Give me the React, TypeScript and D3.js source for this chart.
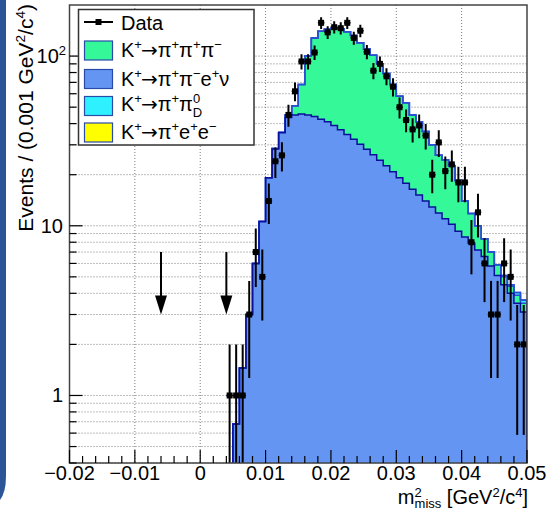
import React from 'react';
import * as d3 from 'd3';

// ---- data (bins of 0.001 GeV^2/c^4 starting at 0.004) ----
const binLow = 0.004;
const binWidth = 0.001;
const dataCounts = [1, 1, 1, 3, 7, 5, 14, 24, 26, 45, 62, 93, 93, 105, 157, 138, 148, 146, 157, 128, 141, 106, 82, 90, 76, 66, 50, 42, 37, 39, 34, 20, 31, 21, 23, 18, 18, 8, 12, 6, 3, 3, 6, 5, 2, 2];
const blueVals = [0, 0.68, 1.45, 3.0, 6.0, 10.6, 19.2, 28.3, 35.4, 43.5, 45, 45.5, 45, 44, 42.5, 41, 39, 36.8, 34.5, 32.3, 30.2, 28.2, 26.2, 24.3, 22.6, 20.8, 19.2, 17.8, 16.4, 15.2, 14.0, 12.9, 11.9, 11.0, 10.2, 9.3, 8.6, 7.9, 7.2, 6.6, 5.8, 5.1, 4.5, 4.0, 3.5, 3.1];
const greenVals = [0, 0, 0, 0, 0, 0, 0, 0.2, 0.1, 1.5, 6, 22.5, 55, 84, 97.5, 103, 107, 108.2, 104.5, 99.7, 89.8, 81.8, 74.8, 65.7, 56.4, 47.2, 38.8, 35.2, 28.6, 25.8, 22, 17.1, 14.1, 13.5, 12.3, 9.2, 5.4, 3.9, 2.8, 1.8, 1.2, 0.8, 0.5, 0.4, 0.4, 0.4];
const cyanVals = [0, 0, 0, 0, 0, 0, 0, 0, 0, 0, 0, 0, 0, 0, 0, 0, 0, 0, 0, 0, 0, 0, 0, 0, 0, 0, 0, 0, 0, 0, 0, 0, 0, 0, 0, 0, 0, 0, 0, 0, 0, 0, 0.1, 0.1, 0.15, 0.15];
const yellowVals = [0, 0, 0, 0, 0, 0, 0, 0, 0, 0, 0, 0, 0, 0, 0, 0, 0, 0, 0, 0, 0, 0, 0, 0, 0, 0, 0, 0, 0, 0, 0, 0, 0, 0, 0, 0, 0, 0, 0, 0, 0, 0, 0, 0, 0, 0];

const xTickValues = [-0.02, -0.01, 0, 0.01, 0.02, 0.03, 0.04, 0.05];
const xTickLabels = ['\u22120.02', '\u22120.01', '0', '0.01', '0.02', '0.03', '0.04', '0.05'];
const yMajorTicks = [1, 10, 100];
const arrowXs = [-0.006, 0.004];
const arrowFrom = 7;
const arrowTo = 3;

const FONT = "'Liberation Sans', Arial, Helvetica, sans-serif";

type Seg = { t: string; k?: 'sup' | 'sub'; dx?: number; f?: string };

function Rich({ segs, x, y, size, anchor, transform, subOff, supOff }: { segs: Seg[]; x: number; y: number; size: number; anchor?: string; transform?: string; subOff?: number; supOff?: number }) {
  let cur = 0;
  const small = size * 0.65;
  return (
    <text x={x} y={y} fontSize={size} textAnchor={anchor || 'start'} fontFamily={FONT} fill="#000" transform={transform}>
      {segs.map((sg, i) => {
        const target = sg.k === 'sup' ? -size * (supOff ?? 0.4) : sg.k === 'sub' ? size * (subOff ?? 0.28) : 0;
        const dy = target - cur;
        cur = target;
        return (
          <tspan key={i} dy={dy} dx={sg.dx || 0} fontSize={sg.k ? small : size} fontFamily={sg.f || undefined}>
            {sg.t}
          </tspan>
        );
      })}
    </text>
  );
}

const ARROW: Seg[] = [{ t: '\u2192', dx: -1, f: "'DejaVu Sans', sans-serif" }, { t: '\u03c0', dx: 0 }];

export default function App() {
  const L = 69.5, R = 527, T = 5, B = 463;
  const x = d3.scaleLinear().domain([-0.02, 0.05]).range([L, R]);
  const y = d3.scaleLog().domain([0.4, 200]).range([B, T]);
  const n = dataCounts.length;
  const edges = d3.range(n + 1).map((i) => binLow + i * binWidth);
  const below = B + 10;
  const yc = (v: number) => (v <= 0 ? below : Math.min(below, y(v)));

  const layers = [blueVals, greenVals, cyanVals, yellowVals];
  const cum: number[][] = [];
  let run = new Array(n).fill(0);
  layers.forEach((l) => {
    run = run.map((r, i) => r + l[i]);
    cum.push(run.slice());
  });
  const histPath = (vals: number[]) => {
    let p = `M${x(edges[0])},${below}`;
    vals.forEach((v, i) => {
      p += `L${x(edges[i])},${yc(v)}L${x(edges[i + 1])},${yc(v)}`;
    });
    p += `L${x(edges[n])},${below}`;
    return p;
  };

  const fills = ['#6495f2', '#35f898', '#2ef0ff', '#ffff00'];
  const strokes = ['#0b0f9a', '#2a4fd0', '#2a4fd0', '#2a4fd0'];

  const yGrid: number[] = [];
  [0.1, 1, 10, 100].forEach((d) => {
    for (let m = 1; m <= 9; m++) {
      const v = m * d;
      if (v >= 0.4 && v < 200) yGrid.push(v);
    }
  });
  const xMinor = d3.range(-0.02, 0.0501, 0.002).map((v) => Math.round(v * 1000) / 1000);

  const legendRows = [
    { c: fills[1], segs: [{ t: 'K' }, { t: '+', k: 'sup' }, ...ARROW, { t: '+', k: 'sup' }, { t: '\u03c0' }, { t: '+', k: 'sup' }, { t: '\u03c0' }, { t: '\u2212', k: 'sup' }] as Seg[] },
    { c: fills[0], segs: [{ t: 'K' }, { t: '+', k: 'sup' }, ...ARROW, { t: '+', k: 'sup' }, { t: '\u03c0' }, { t: '\u2212', k: 'sup' }, { t: 'e' }, { t: '+', k: 'sup' }, { t: '\u03bd' }] as Seg[] },
    { c: fills[2], segs: [{ t: 'K' }, { t: '+', k: 'sup' }, ...ARROW, { t: '+', k: 'sup' }, { t: '\u03c0' }, { t: '0', k: 'sup' }, { t: 'D', k: 'sub', dx: -7.5 }] as Seg[] },
    { c: fills[3], segs: [{ t: 'K' }, { t: '+', k: 'sup' }, ...ARROW, { t: '+', k: 'sup' }, { t: 'e' }, { t: '+', k: 'sup' }, { t: 'e' }, { t: '\u2212', k: 'sup' }] as Seg[] },
  ];
  const rowCenters = [50.5, 79, 106, 132.5];
  const rowBase = [57, 85.5, 111, 139];

  return (
    <svg width={550} height={512} style={{ position: 'absolute', left: 0, top: 0, background: '#fff' }}>
      <defs>
        <clipPath id="plotClip">
          <rect x={L} y={T} width={R - L} height={B - T} />
        </clipPath>
      </defs>
      <rect x={0} y={0} width={550} height={512} fill="#fff" />
      <path d="M0,0 H6 V476 Q6,492 0,500 Z" fill="#2b5597" />

      <g stroke="#7a7a7a" strokeWidth={1} strokeDasharray="1 2">
        {yGrid.map((v) => (
          <line key={'gy' + v} x1={L} x2={R} y1={y(v)} y2={y(v)} />
        ))}
        {xTickValues.slice(1, -1).map((v) => (
          <line key={'gx' + v} x1={x(v)} x2={x(v)} y1={T} y2={B} />
        ))}
      </g>

      <g clipPath="url(#plotClip)">
        {[3, 2, 1, 0].map((li) => (
          <path key={'f' + li} d={histPath(cum[li]) + 'Z'} fill={fills[li]} stroke="none" />
        ))}
        {[3, 2, 1, 0].map((li) => (
          <path key={'s' + li} d={histPath(cum[li])} fill="none" stroke={strokes[li]} strokeWidth={1.5} />
        ))}
      </g>

      <g clipPath="url(#plotClip)" stroke="#000">
        {dataCounts.map((c, i) => {
          if (c <= 0) return null;
          const cx = x(edges[i] + binWidth / 2);
          const e = Math.sqrt(c);
          const lo = c - e;
          return (
            <g key={'d' + i}>
              <line x1={cx} x2={cx} y1={y(c + e)} y2={yc(lo)} strokeWidth={2} />
              <line x1={x(edges[i])} x2={x(edges[i + 1])} y1={y(c)} y2={y(c)} strokeWidth={1.5} />
              <rect x={cx - 3} y={y(c) - 3} width={6} height={6} fill="#000" stroke="none" />
            </g>
          );
        })}
      </g>

      {arrowXs.map((a) => (
        <g key={'a' + a}>
          <line x1={x(a)} x2={x(a)} y1={y(arrowFrom)} y2={y(arrowTo) - 10} stroke="#000" strokeWidth={2} />
          <path d={`M${x(a) - 6},${y(arrowTo) - 19} L${x(a) + 6},${y(arrowTo) - 19} L${x(a)},${y(arrowTo)} Z`} fill="#000" />
        </g>
      ))}

      <rect x={L} y={T} width={R - L} height={B - T} fill="none" stroke="#444" strokeWidth={1.5} />

      <g stroke="#000" strokeWidth={1.2}>
        {yGrid.map((v) => {
          const major = yMajorTicks.includes(v);
          return <line key={'ty' + v} x1={L} x2={L + (major ? 13 : 7)} y1={y(v)} y2={y(v)} />;
        })}
        {xMinor.map((v) => {
          const major = xTickValues.some((t) => Math.abs(t - v) < 1e-9);
          return <line key={'tx' + v} x1={x(v)} x2={x(v)} y1={B} y2={B - (major ? 13 : 7)} />;
        })}
      </g>

      <Rich segs={[{ t: '1' }]} x={63} y={y(1) + 7} size={20} anchor="end" />
      <Rich segs={[{ t: '10' }]} x={63} y={y(10) + 7} size={20} anchor="end" />
      <Rich segs={[{ t: '10' }, { t: '2', k: 'sup' }]} x={66} y={y(100) + 7} size={20} anchor="end" />

      {xTickValues.map((v, i) => (
        <text key={'xl' + v} x={x(v)} y={480} fontSize={20} textAnchor="middle" fontFamily={FONT}>
          {xTickLabels[i]}
        </text>
      ))}

      <Rich
        segs={[{ t: 'm' }, { t: '2', k: 'sup' }, { t: 'miss', k: 'sub', dx: -7.2 }, { t: ' [GeV' }, { t: '2', k: 'sup' }, { t: '/c' }, { t: '4', k: 'sup' }, { t: ']' }]}
        x={528}
        y={504}
        size={20}
        anchor="end"
        subOff={0.2}
        supOff={0.35}
      />
      <Rich
        segs={[{ t: 'Events / (0.001 GeV' }, { t: '2', k: 'sup' }, { t: '/c' }, { t: '4', k: 'sup' }, { t: ')' }]}
        x={0}
        y={0}
        size={21}
        anchor="end"
        transform="translate(33,4) rotate(-90)"
      />

      <rect x={78.5} y={9.5} width={175.5} height={135.5} fill="#fff" stroke="#333" strokeWidth={1.5} />
      <line x1={84} x2={113} y1={22} y2={22} stroke="#000" strokeWidth={2} />
      <rect x={95.5} y={19} width={6} height={6} fill="#000" />
      <Rich segs={[{ t: 'Data' }]} x={121} y={29.5} size={20} />
      {legendRows.map((r, i) => (
        <g key={'lg' + i}>
          <rect x={84.5} y={rowCenters[i] - 9.5} width={28} height={19} fill={r.c} stroke="#2a4aa8" strokeWidth={1.2} />
          <Rich segs={r.segs} x={121} y={rowBase[i]} size={20} />
        </g>
      ))}
    </svg>
  );
}
